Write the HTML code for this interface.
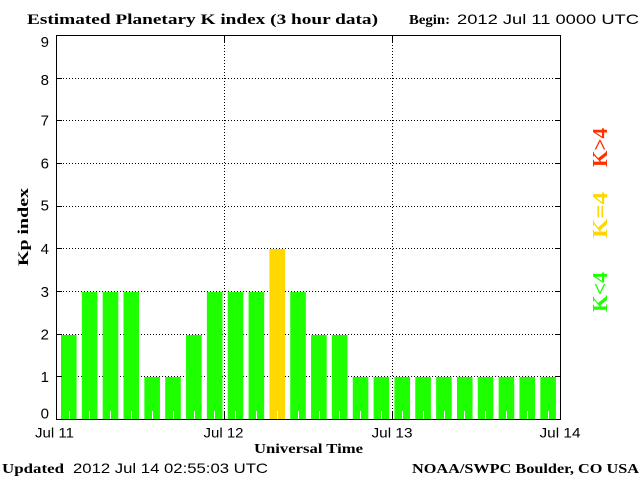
<!DOCTYPE html>
<html><head><meta charset="utf-8"><style>
html,body{margin:0;padding:0;background:#fff;}
svg{display:block;}
.s{font-family:"Liberation Sans",sans-serif;}
.b{font-family:"Liberation Serif",serif;font-weight:bold;}
</style></head><body>
<svg width="640" height="480" viewBox="0 0 640 480" xmlns="http://www.w3.org/2000/svg">
<rect width="640" height="480" fill="#fff"/>
<!-- grid -->
<g stroke="#000" stroke-width="1" stroke-dasharray="1 2" shape-rendering="crispEdges">
<line x1="57" y1="376.5" x2="560" y2="376.5"/>
<line x1="57" y1="334.5" x2="560" y2="334.5"/>
<line x1="57" y1="291.5" x2="560" y2="291.5"/>
<line x1="57" y1="248.5" x2="560" y2="248.5"/>
<line x1="57" y1="206.5" x2="560" y2="206.5"/>
<line x1="57" y1="163.5" x2="560" y2="163.5"/>
<line x1="57" y1="120.5" x2="560" y2="120.5"/>
<line x1="57" y1="78.5" x2="560" y2="78.5"/>
<line x1="224.5" y1="36" x2="224.5" y2="419"/>
<line x1="392.5" y1="36" x2="392.5" y2="419"/>
</g>
<!-- bars -->
<g fill="#1eff00">
<rect x="61" y="335" width="15.6" height="84"/>
<rect x="81.84" y="292" width="15.6" height="127"/>
<rect x="102.68" y="292" width="15.6" height="127"/>
<rect x="123.52" y="292" width="15.6" height="127"/>
<rect x="144.36" y="377" width="15.6" height="42"/>
<rect x="165.2" y="377" width="15.6" height="42"/>
<rect x="186.04" y="335" width="15.6" height="84"/>
<rect x="206.88" y="292" width="15.6" height="127"/>
<rect x="227.72" y="292" width="15.6" height="127"/>
<rect x="248.56" y="292" width="15.6" height="127"/>
<rect x="290.24" y="292" width="15.6" height="127"/>
<rect x="311.08" y="335" width="15.6" height="84"/>
<rect x="331.92" y="335" width="15.6" height="84"/>
<rect x="352.76" y="377" width="15.6" height="42"/>
<rect x="373.6" y="377" width="15.6" height="42"/>
<rect x="394.44" y="377" width="15.6" height="42"/>
<rect x="415.28" y="377" width="15.6" height="42"/>
<rect x="436.12" y="377" width="15.6" height="42"/>
<rect x="456.96" y="377" width="15.6" height="42"/>
<rect x="477.8" y="377" width="15.6" height="42"/>
<rect x="498.64" y="377" width="15.6" height="42"/>
<rect x="519.48" y="377" width="15.6" height="42"/>
<rect x="540.32" y="377" width="15.6" height="42"/>
</g>
<rect x="269.4" y="249" width="15.6" height="170" fill="#ffd800"/>
<!-- white marks -->
<g fill="#fff">
<rect x="69" y="411" width="1" height="8"/><rect x="89" y="411" width="1" height="8"/>
<rect x="110" y="411" width="1" height="8"/><rect x="131" y="411" width="1" height="8"/>
<rect x="152" y="411" width="1" height="8"/><rect x="173" y="411" width="1" height="8"/>
<rect x="194" y="411" width="1" height="8"/><rect x="214" y="411" width="1" height="8"/>
<rect x="235" y="411" width="1" height="8"/><rect x="256" y="411" width="1" height="8"/>
<rect x="277" y="411" width="1" height="8"/><rect x="298" y="411" width="1" height="8"/>
<rect x="319" y="411" width="1" height="8"/><rect x="339" y="411" width="1" height="8"/>
<rect x="360" y="411" width="1" height="8"/><rect x="381" y="411" width="1" height="8"/>
<rect x="402" y="411" width="1" height="8"/><rect x="423" y="411" width="1" height="8"/>
<rect x="444" y="411" width="1" height="8"/><rect x="464" y="411" width="1" height="8"/>
<rect x="485" y="411" width="1" height="8"/><rect x="506" y="411" width="1" height="8"/>
<rect x="527" y="411" width="1" height="8"/><rect x="548" y="411" width="1" height="8"/>
</g>
<!-- frame -->
<g stroke="#000" stroke-width="1" fill="none" shape-rendering="crispEdges">
<rect x="56.5" y="35.5" width="504" height="384"/>
<path d="M56 376.5h6M56 334.5h6M56 291.5h6M56 248.5h6M56 206.5h6M56 163.5h6M56 120.5h6M56 78.5h6"/>
<path d="M555 376.5h6M555 334.5h6M555 291.5h6M555 248.5h6M555 206.5h6M555 163.5h6M555 120.5h6M555 78.5h6"/>
<path d="M224.5 35v7M392.5 35v7M224.5 412v7M392.5 412v7"/>
</g>
<!-- y labels -->
<g class="s" font-size="15" text-anchor="end" fill="#000">
<text x="49" y="47">9</text>
<text x="49" y="85">8</text>
<text x="49" y="125.5">7</text>
<text x="49" y="168.5">6</text>
<text x="49" y="210.5">5</text>
<text x="49" y="254">4</text>
<text x="49" y="297">3</text>
<text x="49" y="339.5">2</text>
<text x="49" y="382">1</text>
<text x="49" y="418.5">0</text>
</g>
<!-- x labels -->
<g class="s" font-size="14" fill="#000">
<text x="35" y="437.5" textLength="39" lengthAdjust="spacingAndGlyphs">Jul 11</text>
<text x="203.5" y="437.5" textLength="40" lengthAdjust="spacingAndGlyphs">Jul 12</text>
<text x="371.5" y="437.5" textLength="41" lengthAdjust="spacingAndGlyphs">Jul 13</text>
<text x="539.5" y="437.5" textLength="41" lengthAdjust="spacingAndGlyphs">Jul 14</text>
</g>
<text class="b" x="254" y="453" font-size="14" textLength="109" lengthAdjust="spacingAndGlyphs">Universal Time</text>
<text class="b" transform="translate(28,227) rotate(-90)" font-size="15" text-anchor="middle" textLength="78" lengthAdjust="spacingAndGlyphs">Kp index</text>
<!-- title -->
<text class="b" x="27" y="24" font-size="15" textLength="351" lengthAdjust="spacingAndGlyphs">Estimated Planetary K index (3 hour data)</text>
<text class="b" x="409" y="24" font-size="14" textLength="41" lengthAdjust="spacingAndGlyphs">Begin:</text>
<text class="s" x="457" y="24" font-size="14" textLength="182" lengthAdjust="spacingAndGlyphs">2012 Jul 11 0000 UTC</text>
<!-- footer -->
<text class="b" x="2" y="473" font-size="14" textLength="62" lengthAdjust="spacingAndGlyphs">Updated</text>
<text class="s" x="73" y="473" font-size="14" textLength="195" lengthAdjust="spacingAndGlyphs">2012 Jul 14 02:55:03 UTC</text>
<text class="b" x="412" y="473" font-size="14" textLength="227" lengthAdjust="spacingAndGlyphs">NOAA/SWPC Boulder, CO USA</text>
<!-- legend -->
<text class="b" transform="translate(607,147.5) rotate(-90)" font-size="21" text-anchor="middle" fill="#ff3000" textLength="39" lengthAdjust="spacingAndGlyphs">K&gt;4</text>
<text class="b" transform="translate(607,215) rotate(-90)" font-size="21" text-anchor="middle" fill="#ffd800" textLength="46" lengthAdjust="spacingAndGlyphs">K=4</text>
<text class="b" transform="translate(607,292) rotate(-90)" font-size="21" text-anchor="middle" fill="#1eff00" textLength="40" lengthAdjust="spacingAndGlyphs">K&lt;4</text>
</svg>
</body></html>
